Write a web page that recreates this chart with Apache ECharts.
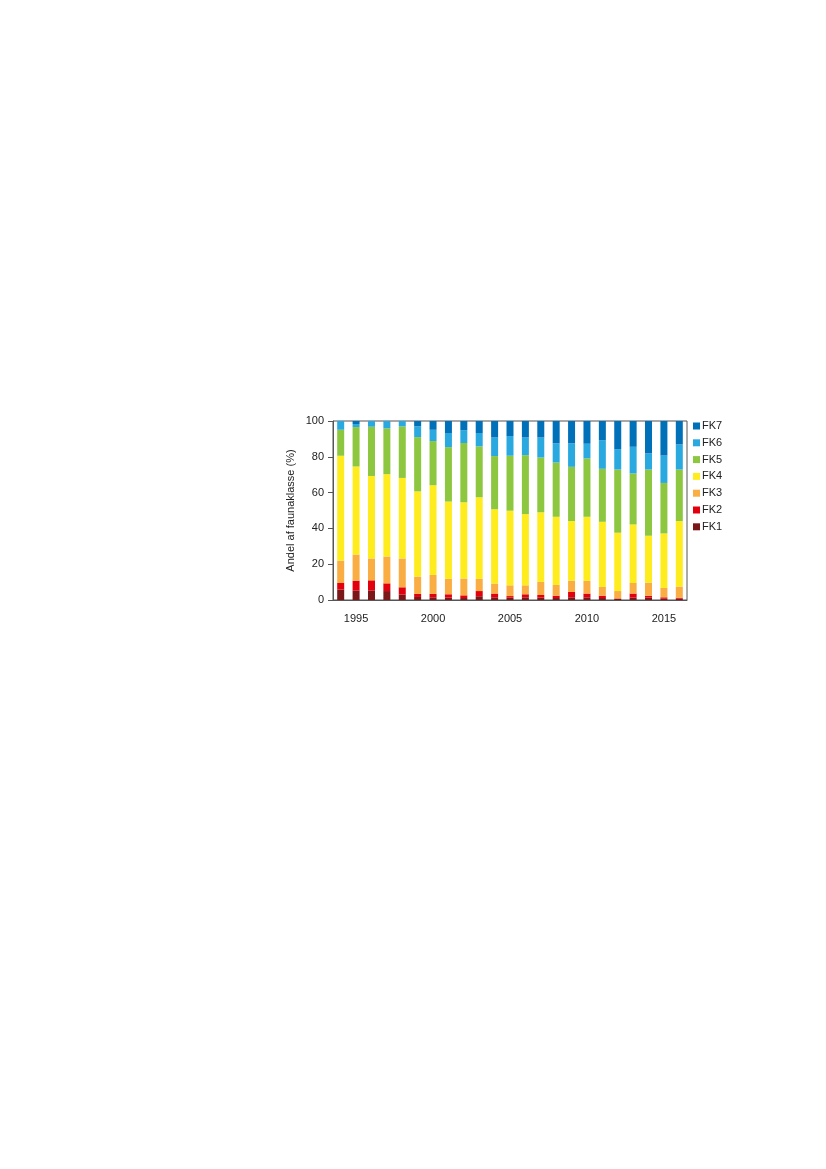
<!DOCTYPE html>
<html>
<head>
<meta charset="utf-8">
<script src="https://cdn.jsdelivr.net/npm/echarts@6/dist/echarts.min.js"></script>
<style>
  html, body { margin: 0; padding: 0; background: #fff; }
  #container { width: 826px; height: 1169px; }
</style>
</head>
<body>
<div id="container"></div>
<script>
var dom = document.getElementById("container");
var myChart = echarts.init(dom);
var option;

var years = ['1994','1995','1996','1997','1998','1999','2000','2001','2002','2003','2004',
             '2005','2006','2007','2008','2009','2010','2011','2012','2013','2014','2015','2016'];
var yTicks = [0, 20, 40, 60, 80, 100];

// share (%) per faunaklasse
var fk1 = [5.8, 5.2, 5.2, 5.0, 3.0, 1.7, 1.5, 1.3, 1.1, 2.1, 1.5, 1.3, 1.5, 1.3, 1.1, 1.5, 1.5, 1.1, 0.7, 1.3, 1.3, 0.7, 0.7];
var fk2 = [3.7, 5.6, 5.8, 4.3, 4.1, 1.7, 1.9, 1.9, 1.5, 2.9, 2.1, 0.9, 1.7, 1.5, 1.3, 3.0, 2.1, 1.3, 0.2, 2.3, 1.1, 0.8, 0.6];
var fk3 = [12.5, 14.6, 12.2, 15.0, 16.1, 9.7, 10.6, 8.6, 9.4, 6.8, 5.6, 6.0, 5.0, 7.3, 6.0, 6.3, 7.1, 4.9, 4.1, 5.9, 7.3, 5.2, 6.2];
var fk4 = [58.6, 49.2, 46.1, 46.0, 45.0, 47.6, 50.1, 43.2, 42.6, 45.6, 41.5, 41.7, 39.8, 38.9, 38.1, 33.3, 35.8, 36.4, 32.6, 32.7, 26.2, 30.5, 36.6];
var fk5 = [14.5, 22.0, 27.5, 25.6, 28.8, 30.3, 24.7, 30.4, 33.1, 28.4, 29.7, 30.7, 32.9, 30.6, 30.3, 30.3, 32.6, 29.6, 35.3, 28.5, 37.0, 28.2, 28.8];
var fk6 = [4.9, 1.7, 3.2, 4.1, 3.0, 6.0, 6.3, 7.9, 7.1, 7.5, 10.4, 11.0, 9.9, 11.2, 10.7, 13.1, 8.2, 15.9, 11.4, 14.9, 9.0, 15.3, 14.0];
var fk7 = [0, 1.7, 0, 0, 0, 3.0, 4.9, 6.7, 5.2, 6.7, 9.2, 8.4, 9.2, 9.2, 12.5, 12.5, 12.7, 10.8, 15.7, 14.4, 18.1, 19.3, 13.1];

var names = ['FK1', 'FK2', 'FK3', 'FK4', 'FK5', 'FK6', 'FK7'];
var colors = ['#7a1719', '#e2000f', '#f9ad42', '#ffec1f', '#8dc63f', '#2aa9e0', '#0070b8'];
var values = [fk1, fk2, fk3, fk4, fk5, fk6, fk7];

var axisColor = '#555';
var textColor = '#222';
var fontFamily = '"Liberation Sans", Arial, sans-serif';

function isMajor(idx) {
    return Number(years[idx]) % 5 === 0;
}

var series = names.map(function (n, i) {
    return {
        name: n,
        type: 'bar',
        stack: 'fk',
        barWidth: 7,
        itemStyle: { color: colors[i] },
        data: values[i]
    };
});

option = {
    animation: false,
    textStyle: { fontFamily: fontFamily },
    grid: {
        left: 333,
        right: 139,
        top: 421,
        bottom: 569,
        show: true,
        borderColor: axisColor,
        borderWidth: 1
    },
    legend: {
        orient: 'vertical',
        left: 688,
        top: 415.5,
        itemWidth: 7,
        itemHeight: 7,
        itemGap: 5.8,
        icon: 'rect',
        data: names.slice().reverse(),
        textStyle: { fontSize: 11, lineHeight: 11, color: textColor, fontFamily: fontFamily, padding: [0, 0, 0, -3] }
    },
    xAxis: [
        {
            type: 'category',
            data: years,
            axisLine: { lineStyle: { color: axisColor } },
            axisTick: { alignWithLabel: true, length: 3, lineStyle: { color: '#888' } },
            axisLabel: {
                interval: function (idx) { return isMajor(idx); },
                fontSize: 11,
                color: textColor,
                margin: 13
            }
        },
        {
            type: 'category',
            data: years,
            position: 'bottom',
            axisLine: { show: false },
            axisTick: {
                alignWithLabel: true,
                length: 5,
                interval: function (idx) { return isMajor(idx); },
                lineStyle: { color: '#444' }
            },
            axisLabel: { show: false }
        }
    ],
    yAxis: {
        type: 'value',
        min: yTicks[0],
        max: yTicks[yTicks.length - 1],
        interval: 20,
        name: 'Andel af faunaklasse (%)',
        nameLocation: 'middle',
        nameGap: 37,
        nameTextStyle: { fontSize: 11, color: textColor },
        axisLine: { show: true, lineStyle: { color: axisColor } },
        axisTick: { show: true, length: 5, lineStyle: { color: axisColor } },
        splitLine: { show: false },
        axisLabel: { fontSize: 11, color: textColor, margin: 9 }
    },
    series: series
};

if (option && typeof option === 'object') {
    myChart.setOption(option);
}
</script>
</body>
</html>
